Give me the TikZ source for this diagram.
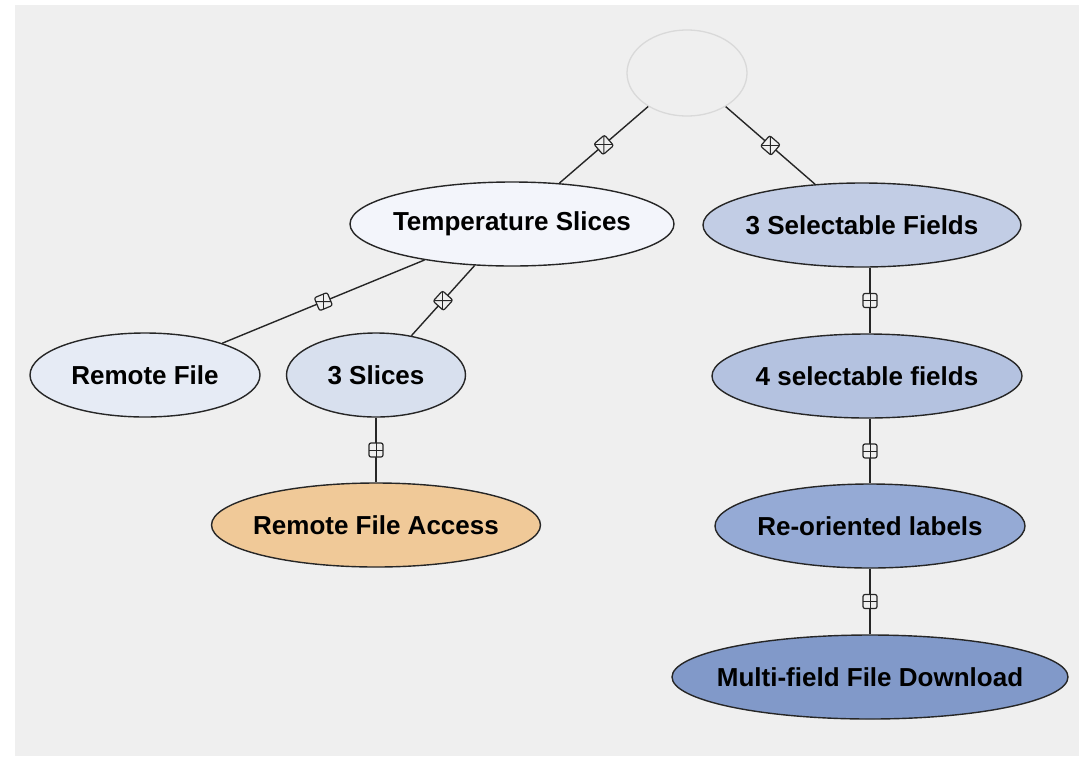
\documentclass[tikz,border=0pt]{standalone}
\usepackage{fontspec}
\setsansfont{Liberation Sans}
\usetikzlibrary{shapes.geometric}

\definecolor{canvas}{HTML}{EFEFEF}
\definecolor{tempfill}{HTML}{F3F5FB}
\definecolor{remotefill}{HTML}{E6EBF5}
\definecolor{slicefill}{HTML}{D8E0EE}
\definecolor{accessfill}{HTML}{F0C998}
\definecolor{selthree}{HTML}{C2CDE5}
\definecolor{selfour}{HTML}{B4C2E0}
\definecolor{reorifill}{HTML}{95AAD5}
\definecolor{multifill}{HTML}{8199C9}

\begin{document}
\begin{tikzpicture}[x=1pt, y=-1pt,
  feature/.style={ellipse, draw=black!85, line width=1.4pt, inner xsep=-40pt, inner ysep=0pt,
    minimum height=84pt, font={\sffamily\bfseries\fontsize{26}{26}\selectfont}},
  link/.style={draw=black!85, line width=1.4pt},
  joint/.style={rectangle, rounded corners=2pt, draw=black!85, line width=1.2pt,
    fill=canvas, minimum size=14pt, inner sep=0pt, sloped,
    path picture={
      \draw[line width=1pt] (path picture bounding box.north) -- (path picture bounding box.south);
      \draw[line width=1pt] (path picture bounding box.west) -- (path picture bounding box.east);}}]
\useasboundingbox (0,0) rectangle (1079,756);
\fill[white] (0,0) rectangle (1079,756);
\fill[canvas] (15,5) rectangle (1079,756);

% root
\node[ellipse, draw=black!15, line width=1.3pt, fill=canvas, minimum width=120pt, minimum height=86pt] (root) at (687,73) {};

% left branch
\node[feature, fill=tempfill, minimum width=324pt] (temp) at (512,224) {Temperature Slices};
\node[feature, fill=remotefill, minimum width=230pt] (remote) at (145,375) {Remote File};
\node[feature, fill=slicefill, minimum width=179pt] (slices) at (376,375) {3 Slices};
\node[feature, fill=accessfill, minimum width=329pt] (access) at (376,525) {Remote File Access};

% right branch
\node[feature, fill=selthree, minimum width=318pt] (sel3) at (862,225) {3 Selectable Fields};
\node[feature, fill=selfour, minimum width=310pt] (sel4) at (867,376) {4 selectable fields};
\node[feature, fill=reorifill, minimum width=310pt] (reori) at (870,526) {Re-oriented labels};
\node[feature, fill=multifill, minimum width=396pt] (multi) at (870,677) {Multi-field File Download};

% links
\draw[link] (root) -- node[joint] {} (temp);
\draw[link] (root) -- node[joint] {} (sel3);
\draw[link] (temp) -- node[joint] {} (remote);
\draw[link] (temp) -- node[joint] {} (slices);
\draw[link] (slices) -- node[joint] {} (access);
\draw[link] (sel3.south -| reori) -- node[joint] {} (sel4.north -| reori);
\draw[link] (sel4.south -| reori) -- node[joint] {} (reori);
\draw[link] (reori) -- node[joint] {} (multi);
\end{tikzpicture}
\end{document}
